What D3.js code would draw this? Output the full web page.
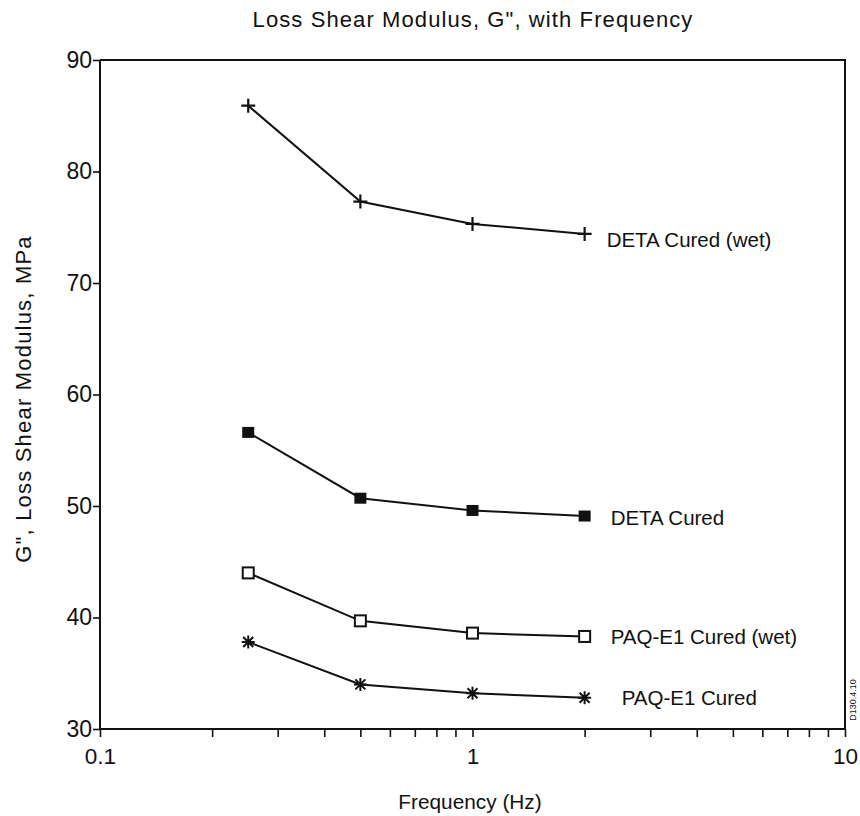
<!DOCTYPE html>
<html><head><meta charset="utf-8">
<script src="https://cdn.jsdelivr.net/npm/d3@7"></script>
<style>body{margin:0;background:#fff}svg{display:block}text{font-family:"Liberation Sans",Arial,sans-serif;fill:#111}</style>
</head><body>
<svg id="c" width="860" height="816"></svg>
<script>
const frequencies = [0.25, 0.5, 1, 2];
const detaWet = [85.9, 77.3, 75.3, 74.4];
const detaCured = [56.6, 50.7, 49.6, 49.1];
const paqWet = [44.0, 39.7, 38.6, 38.3];
const paqCured = [37.8, 34.0, 33.2, 32.8];
const seriesNames = ["DETA Cured (wet)", "DETA Cured", "PAQ-E1 Cured (wet)", "PAQ-E1 Cured"];
const yTicks = [30, 40, 50, 60, 70, 80, 90];
const xMajor = [0.1, 1, 10];

const series = [
  {name: seriesNames[0], values: detaWet, marker: "plus"},
  {name: seriesNames[1], values: detaCured, marker: "fsquare"},
  {name: seriesNames[2], values: paqWet, marker: "osquare"},
  {name: seriesNames[3], values: paqCured, marker: "star"}
];
const labelOffsets = [{dx: 22, dy: 13}, {dx: 26, dy: 9}, {dx: 26, dy: 8}, {dx: 37, dy: 7}];

const svg = d3.select("#c");
const L = 100, R = 845, T = 60, B = 729;
const x = d3.scaleLog().domain([0.1, 10]).range([L, R]);
const y = d3.scaleLinear().domain([30, 90]).range([B, T]);
const ink = "#111";
const FF = '"Liberation Sans",Arial,sans-serif';

// Title
svg.append("text").attr("x", 473).attr("y", 27).attr("text-anchor", "middle")
  .attr("font-size", 22).attr("letter-spacing", 1.1).text('Loss Shear Modulus, G", with Frequency');

// frame top/right
svg.append("path").attr("d", `M${L},${T}H${R}V${B}`).attr("fill", "none").attr("stroke", ink).attr("stroke-width", 2);

// X axis
const minor = [];
for (let d = 0.1; d < 10; d *= 10) for (let k = 2; k <= 9; k++) minor.push(+(d * k).toFixed(2));
const xAxis = d3.axisBottom(x).tickValues(xMajor.concat(minor)).tickSize(8)
  .tickFormat(d => xMajor.includes(d) ? String(d) : "");
const gx = svg.append("g").attr("transform", `translate(0,${B})`).call(xAxis);
gx.select(".domain").attr("stroke", ink).attr("stroke-width", 2).attr("d", `M${L},0H${R}`);
gx.selectAll(".tick line").attr("stroke", ink).attr("stroke-width", 1.6);
gx.selectAll(".tick text").attr("font-size", 22.5).attr("dy", "1.05em").style("font-family", FF).attr("fill", ink);

// Y axis
const yAxis = d3.axisLeft(y).tickValues(yTicks).tickSize(7).tickPadding(1);
const gy = svg.append("g").attr("transform", `translate(${L},0)`).call(yAxis);
gy.select(".domain").attr("stroke", ink).attr("stroke-width", 2).attr("d", `M0,${T}V${B}`);
gy.selectAll(".tick line").attr("stroke", ink).attr("stroke-width", 1.6);
gy.selectAll(".tick text").attr("font-size", 23).style("font-family", FF).attr("fill", ink);

// axis titles
svg.append("text").attr("transform", `translate(31,399) rotate(-90)`).attr("text-anchor", "middle")
  .attr("font-size", 22).attr("letter-spacing", 1.2).text('G", Loss Shear Modulus, MPa');
svg.append("text").attr("x", 470).attr("y", 809).attr("text-anchor", "middle")
  .attr("font-size", 20.8).text("Frequency (Hz)");
svg.append("text").attr("transform", `translate(856,700) rotate(-90)`).attr("text-anchor", "middle")
  .attr("font-size", 9).text("D130.4.10");

// lines
const line = d3.line().x((d, i) => x(frequencies[i])).y(d => y(d));
series.forEach((s, si) => {
  svg.append("path").datum(s.values).attr("d", line).attr("fill", "none").attr("stroke", ink).attr("stroke-width", 2);
  const g = svg.append("g");
  s.values.forEach((v, i) => {
    const cx = x(frequencies[i]), cy = y(v);
    if (s.marker === "plus") {
      g.append("path").attr("d", `M${cx-7},${cy}H${cx+7}M${cx},${cy-7}V${cy+7}`).attr("stroke", ink).attr("stroke-width", 2.2);
    } else if (s.marker === "fsquare") {
      g.append("rect").attr("x", cx-6).attr("y", cy-5.5).attr("width", 12).attr("height", 11).attr("fill", ink);
    } else if (s.marker === "osquare") {
      g.append("rect").attr("x", cx-5.5).attr("y", cy-5.5).attr("width", 11).attr("height", 11).attr("fill", "#fff").attr("stroke", ink).attr("stroke-width", 2);
    } else {
      g.append("path").attr("d", `M${cx-6.5},${cy}H${cx+6.5}M${cx},${cy-6.5}V${cy+6.5}M${cx-5},${cy-5}L${cx+5},${cy+5}M${cx-5},${cy+5}L${cx+5},${cy-5}`).attr("stroke", ink).attr("stroke-width", 2);
    }
  });
  const last = s.values.length - 1;
  svg.append("text").attr("x", x(frequencies[last]) + labelOffsets[si].dx).attr("y", y(s.values[last]) + labelOffsets[si].dy)
    .attr("font-size", 20.5).text(s.name);
});
</script>
</body></html>
